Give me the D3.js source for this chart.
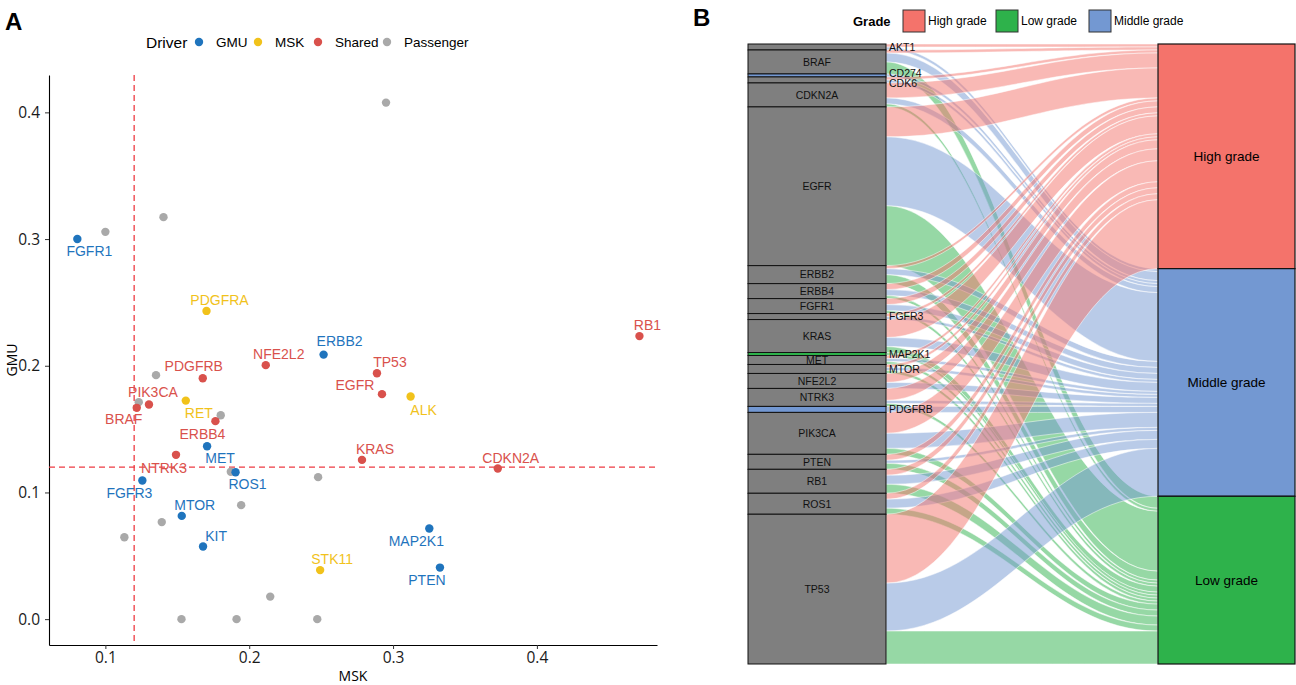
<!DOCTYPE html>
<html>
<head>
<meta charset="utf-8">
<script src="https://cdn.jsdelivr.net/npm/d3@7"></script>
<style>
body { margin: 0; background: #fff; }
svg { display: block; }
</style>
</head>
<body>
<svg id="chart" width="1296" height="685"></svg>
<script>
// ---- panel A data: driver genes (MSK vs GMU frequency)
var pointGenes  = ['FGFR1', 'ERBB2', 'MET', 'ROS1', 'FGFR3', 'MTOR', 'KIT', 'MAP2K1', 'PTEN',
                   'PDGFRA', 'RET', 'ALK', 'STK11',
                   'RB1', 'TP53', 'EGFR', 'NFE2L2', 'PDGFRB', 'PIK3CA', 'BRAF', 'ERBB4', 'NTRK3', 'KRAS', 'CDKN2A'];
var pointMsk    = [0.0805, 0.2517, 0.1707, 0.1905, 0.1257, 0.1531, 0.1679, 0.3252, 0.3326,
                   0.1703, 0.1559, 0.3122, 0.2493,
                   0.4713, 0.2888, 0.2923, 0.2115, 0.1677, 0.1303, 0.1218, 0.1765, 0.1491, 0.2784, 0.3728];
var pointGmu    = [0.300, 0.2088, 0.1365, 0.116, 0.1094, 0.0815, 0.0573, 0.0715, 0.0407,
                   0.2433, 0.1725, 0.1757, 0.0387,
                   0.2234, 0.1941, 0.1776, 0.2005, 0.1902, 0.1694, 0.1668, 0.1563, 0.1297, 0.1257, 0.1189];
var pointDriver = ['GMU', 'GMU', 'GMU', 'GMU', 'GMU', 'GMU', 'GMU', 'GMU', 'GMU',
                   'MSK', 'MSK', 'MSK', 'MSK',
                   'Shared', 'Shared', 'Shared', 'Shared', 'Shared', 'Shared', 'Shared', 'Shared', 'Shared', 'Shared', 'Shared'];

var passengerMsk = [0.2951, 0.1404, 0.1000, 0.1352, 0.1232, 0.1802, 0.1872, 0.2479, 0.1944, 0.1392, 0.1132, 0.2146, 0.1529, 0.1912, 0.2473];
var passengerGmu = [0.4077, 0.3173, 0.3057, 0.1926, 0.1713, 0.1610, 0.1163, 0.1121, 0.0900, 0.0766, 0.0647, 0.0178, 0.0, 0.0, 0.0];

var driverLevels = ['GMU', 'MSK', 'Shared', 'Passenger'];
var cutoff = 0.12;
var xTicks = [0.1, 0.2, 0.3, 0.4];
var yTicks = [0.0, 0.1, 0.2, 0.3, 0.4];

// ---- panel B data: gene -> grade counts
var genes  = ['AKT1', 'BRAF', 'CD274', 'CDK6', 'CDKN2A', 'EGFR', 'ERBB2', 'ERBB4', 'FGFR1', 'FGFR3', 'KRAS',
              'MAP2K1', 'MET', 'MTOR', 'NFE2L2', 'NTRK3', 'PDGFRB', 'PIK3CA', 'PTEN', 'RB1', 'ROS1', 'TP53'];
var highCounts   = [1, 1, 0, 1, 5, 10, 1, 2, 2, 1, 6, 0, 1, 1, 3, 4, 0, 7, 2, 2, 2, 23];
var middleCounts = [1, 3, 1, 1, 2, 23, 2, 2, 2, 1, 3, 0, 1, 1, 2, 1, 2, 5, 1, 3, 3, 16];
var lowCounts    = [0, 4, 0, 0, 1, 20, 3, 1, 1, 0, 2, 1, 1, 1, 0, 1, 0, 2, 2, 3, 2, 11];
var grades = ['High grade', 'Middle grade', 'Low grade'];
var legendGrades = ['High grade', 'Low grade', 'Middle grade'];
var outsideLabels = ['AKT1', 'CD274', 'CDK6', 'FGFR3', 'MAP2K1', 'MTOR', 'PDGFRB'];

// ---- styles / layout
var driverColor = d3.scaleOrdinal()
    .domain(driverLevels)
    .range(['#1f74bd', '#f1c21b', '#d9514c', '#a9a9a9']);
var gradeColor = d3.scaleOrdinal()
    .domain(grades)
    .range(['#f4736b', '#7398d2', '#2eb24b']);

// label nudges for panel A (pixels, repel-style placement)
var labelNudge = {
    FGFR1: [12, 12], ERBB2: [16, -14], MET: [13, 12], ROS1: [12, 12], FGFR3: [-13, 12],
    MTOR: [13, -11], KIT: [13, -11], MAP2K1: [-13, 12], PTEN: [-13, 12],
    PDGFRA: [13, -11], RET: [13, 12], ALK: [13, 13], STK11: [12, -11],
    RB1: [8, -11], TP53: [13, -11], EGFR: [-27, -9], NFE2L2: [13, -11], PDGFRB: [-9, -12],
    PIK3CA: [4, -13], BRAF: [-13, 11], ERBB4: [-13, 13], NTRK3: [-12, 13], KRAS: [13, -11],
    CDKN2A: [13, -11]
};

var svg = d3.select('svg#chart');
var labelFont = '"Liberation Sans", Arial, sans-serif';
var axisFont = '"Open Sans", "Noto Sans", sans-serif';

// ================= panel A =================
var x = d3.scaleLinear().domain([0.0608, 0.4835]).range([49, 657]);
var y = d3.scaleLinear().domain([-0.0204, 0.4295]).range([645, 75]);

var pa = svg.append('g').classed('panelA', true);

pa.append('text')
    .attr('x', 5).attr('y', 30)
    .style('font', 'bold 24px ' + labelFont)
    .text('A');

var xAxis = pa.append('g')
    .attr('transform', 'translate(0,645)')
    .call(d3.axisBottom(x).tickValues(xTicks).tickFormat(d3.format('.1f')).tickSize(4).tickPadding(3).tickSizeOuter(0));
var yAxis = pa.append('g')
    .attr('transform', 'translate(49,0)')
    .call(d3.axisLeft(y).tickValues(yTicks).tickFormat(d3.format('.1f')).tickSize(4).tickPadding(5).tickSizeOuter(0));
[xAxis, yAxis].forEach(function (ax) {
    ax.select('.domain').attr('stroke', '#000').attr('stroke-width', 1.1);
    ax.selectAll('.tick line').attr('stroke', '#333');
    ax.selectAll('.tick text')
        .style('font-family', axisFont)
        .style('font-size', '15.5px')
        .attr('fill', '#1a1a1a');
});

pa.append('text')
    .attr('x', 353).attr('y', 681)
    .attr('text-anchor', 'middle')
    .style('font', '14px ' + axisFont)
    .text('MSK');
pa.append('text')
    .attr('transform', 'translate(17,360) rotate(-90)')
    .attr('text-anchor', 'middle')
    .style('font', '14px ' + axisFont)
    .text('GMU');

// cutoff lines
pa.append('line')
    .attr('x1', x(cutoff)).attr('x2', x(cutoff))
    .attr('y1', y.range()[1]).attr('y2', y.range()[0])
    .attr('stroke', '#ee3b43').attr('stroke-width', 1.3).attr('stroke-dasharray', '6,4');
pa.append('line')
    .attr('x1', x.range()[0]).attr('x2', x.range()[1])
    .attr('y1', y(cutoff)).attr('y2', y(cutoff))
    .attr('stroke', '#ee3b43').attr('stroke-width', 1.3).attr('stroke-dasharray', '6,4');

// passengers
pa.selectAll('circle.passenger')
    .data(passengerMsk.map(function (d, i) { return { msk: d, gmu: passengerGmu[i] }; }))
    .enter().append('circle')
    .classed('passenger', true)
    .attr('cx', function (d) { return x(d.msk); })
    .attr('cy', function (d) { return y(d.gmu); })
    .attr('r', 4.2)
    .attr('fill', driverColor('Passenger'));

var drivers = pointGenes.map(function (g, i) {
    return { gene: g, msk: pointMsk[i], gmu: pointGmu[i], driver: pointDriver[i] };
});

pa.selectAll('text.glabel')
    .data(drivers)
    .enter().append('text')
    .classed('glabel', true)
    .attr('x', function (d) { return x(d.msk) + labelNudge[d.gene][0]; })
    .attr('y', function (d) { return y(d.gmu) + labelNudge[d.gene][1]; })
    .attr('dy', '0.36em')
    .attr('text-anchor', 'middle')
    .attr('fill', function (d) { return driverColor(d.driver); })
    .style('font', '14px ' + labelFont)
    .text(function (d) { return d.gene; });

pa.selectAll('circle.driver')
    .data(drivers)
    .enter().append('circle')
    .classed('driver', true)
    .attr('cx', function (d) { return x(d.msk); })
    .attr('cy', function (d) { return y(d.gmu); })
    .attr('r', 4.2)
    .attr('fill', function (d) { return driverColor(d.driver); });

// legend A
var legA = pa.append('g').attr('transform', 'translate(146,42)');
legA.append('text')
    .attr('y', 0).attr('dy', '0.36em')
    .style('font', '15.5px ' + labelFont)
    .text('Driver');
var legX = [53, 112, 172, 241];
var legItems = legA.selectAll('g.key')
    .data(driverLevels)
    .enter().append('g')
    .classed('key', true)
    .attr('transform', function (d, i) { return 'translate(' + legX[i] + ',0)'; });
legItems.append('circle')
    .attr('r', 4.2)
    .attr('fill', function (d) { return driverColor(d); });
legItems.append('text')
    .attr('x', 17).attr('dy', '0.36em')
    .style('font', '13.5px ' + labelFont)
    .text(function (d) { return d; });

// ================= panel B =================
var pb = svg.append('g').classed('panelB', true);

pb.append('text')
    .attr('x', 693).attr('y', 26)
    .style('font', 'bold 24px ' + labelFont)
    .text('B');

var leftX0 = 748, leftX1 = 886, rightX0 = 1158, rightX1 = 1295;

var rows = genes.map(function (g, i) {
    return { gene: g, counts: [highCounts[i], middleCounts[i], lowCounts[i]] };
});
var total = d3.sum(rows, function (r) { return d3.sum(r.counts); });
var yB = d3.scaleLinear().domain([0, total]).range([44, 664]);

// left stacking: gene order, within gene High / Middle / Low
var flows = [];
var cum = 0;
rows.forEach(function (r) {
    r.start = cum;
    r.counts.forEach(function (c, k) {
        if (c > 0) flows.push({ gene: r.gene, grade: grades[k], k: k, n: c, l0: cum, l1: cum + c });
        cum += c;
    });
    r.end = cum;
});
// right stacking: grade order, within grade gene order
var gradeBlocks = [];
cum = 0;
grades.forEach(function (gr, k) {
    var s = cum;
    flows.filter(function (f) { return f.k === k; }).forEach(function (f) {
        f.r0 = cum; f.r1 = cum + f.n; cum += f.n;
    });
    gradeBlocks.push({ grade: gr, start: s, end: cum });
});

var flowPath = function (f) {
    var xa = leftX1, xb = rightX0;
    var c1 = xa + (xb - xa) * 0.4, c2 = xb - (xb - xa) * 0.4;
    var a0 = yB(f.l0), a1 = yB(f.l1), b0 = yB(f.r0), b1 = yB(f.r1);
    return 'M' + xa + ',' + a0 +
        'C' + c1 + ',' + a0 + ' ' + c2 + ',' + b0 + ' ' + xb + ',' + b0 +
        'L' + xb + ',' + b1 +
        'C' + c2 + ',' + b1 + ' ' + c1 + ',' + a1 + ' ' + xa + ',' + a1 + 'Z';
};

pb.selectAll('path.flow')
    .data(flows)
    .enter().append('path')
    .classed('flow', true)
    .attr('d', flowPath)
    .attr('fill', function (d) { return gradeColor(d.grade); })
    .attr('fill-opacity', 0.5)
    .attr('stroke', '#fff')
    .attr('stroke-width', 0.5);

// left strata
var strata = pb.selectAll('g.stratum')
    .data(rows)
    .enter().append('g')
    .classed('stratum', true);
strata.append('rect')
    .attr('x', leftX0)
    .attr('y', function (d) { return yB(d.start); })
    .attr('width', leftX1 - leftX0)
    .attr('height', function (d) { return yB(d.end) - yB(d.start); })
    .attr('fill', function (d) {
        var nz = d.counts.filter(function (c) { return c > 0; });
        if (nz.length === 1) return gradeColor(grades[d.counts.findIndex(function (c) { return c > 0; })]);
        return '#7f7f7f';
    })
    .attr('stroke', '#111')
    .attr('stroke-width', 1);

var labelShift = { CD274: -2, CDK6: 3 };
strata.append('text')
    .attr('x', function (d) { return outsideLabels.indexOf(d.gene) >= 0 ? leftX1 + 3 : (leftX0 + leftX1) / 2; })
    .attr('y', function (d) { return (yB(d.start) + yB(d.end)) / 2 + (labelShift[d.gene] || 0); })
    .attr('dy', '0.36em')
    .attr('text-anchor', function (d) { return outsideLabels.indexOf(d.gene) >= 0 ? 'start' : 'middle'; })
    .attr('fill', '#111')
    .style('font', '10.5px ' + labelFont)
    .text(function (d) { return d.gene; });

// right strata
var gstr = pb.selectAll('g.grade')
    .data(gradeBlocks)
    .enter().append('g')
    .classed('grade', true);
gstr.append('rect')
    .attr('x', rightX0)
    .attr('y', function (d) { return yB(d.start); })
    .attr('width', rightX1 - rightX0)
    .attr('height', function (d) { return yB(d.end) - yB(d.start); })
    .attr('fill', function (d) { return gradeColor(d.grade); })
    .attr('stroke', '#111')
    .attr('stroke-width', 1.2);
gstr.append('text')
    .attr('x', (rightX0 + rightX1) / 2)
    .attr('y', function (d) { return (yB(d.start) + yB(d.end)) / 2; })
    .attr('dy', '0.36em')
    .attr('text-anchor', 'middle')
    .style('font', '13.5px ' + labelFont)
    .text(function (d) { return d.grade; });

// legend B
var legB = pb.append('g').attr('transform', 'translate(853,21)');
legB.append('text')
    .attr('dy', '0.36em')
    .style('font', 'bold 13px ' + labelFont)
    .text('Grade');
var legBX = [50, 143, 236];
var legBItems = legB.selectAll('g.key')
    .data(legendGrades)
    .enter().append('g')
    .classed('key', true)
    .attr('transform', function (d, i) { return 'translate(' + legBX[i] + ',0)'; });
legBItems.append('rect')
    .attr('x', 0).attr('y', -11)
    .attr('width', 22).attr('height', 22)
    .attr('fill', function (d) { return gradeColor(d); })
    .attr('stroke', '#333')
    .attr('stroke-width', 1);
legBItems.append('text')
    .attr('x', 25).attr('dy', '0.36em')
    .style('font', '12px ' + labelFont)
    .text(function (d) { return d; });
</script>
</body>
</html>
